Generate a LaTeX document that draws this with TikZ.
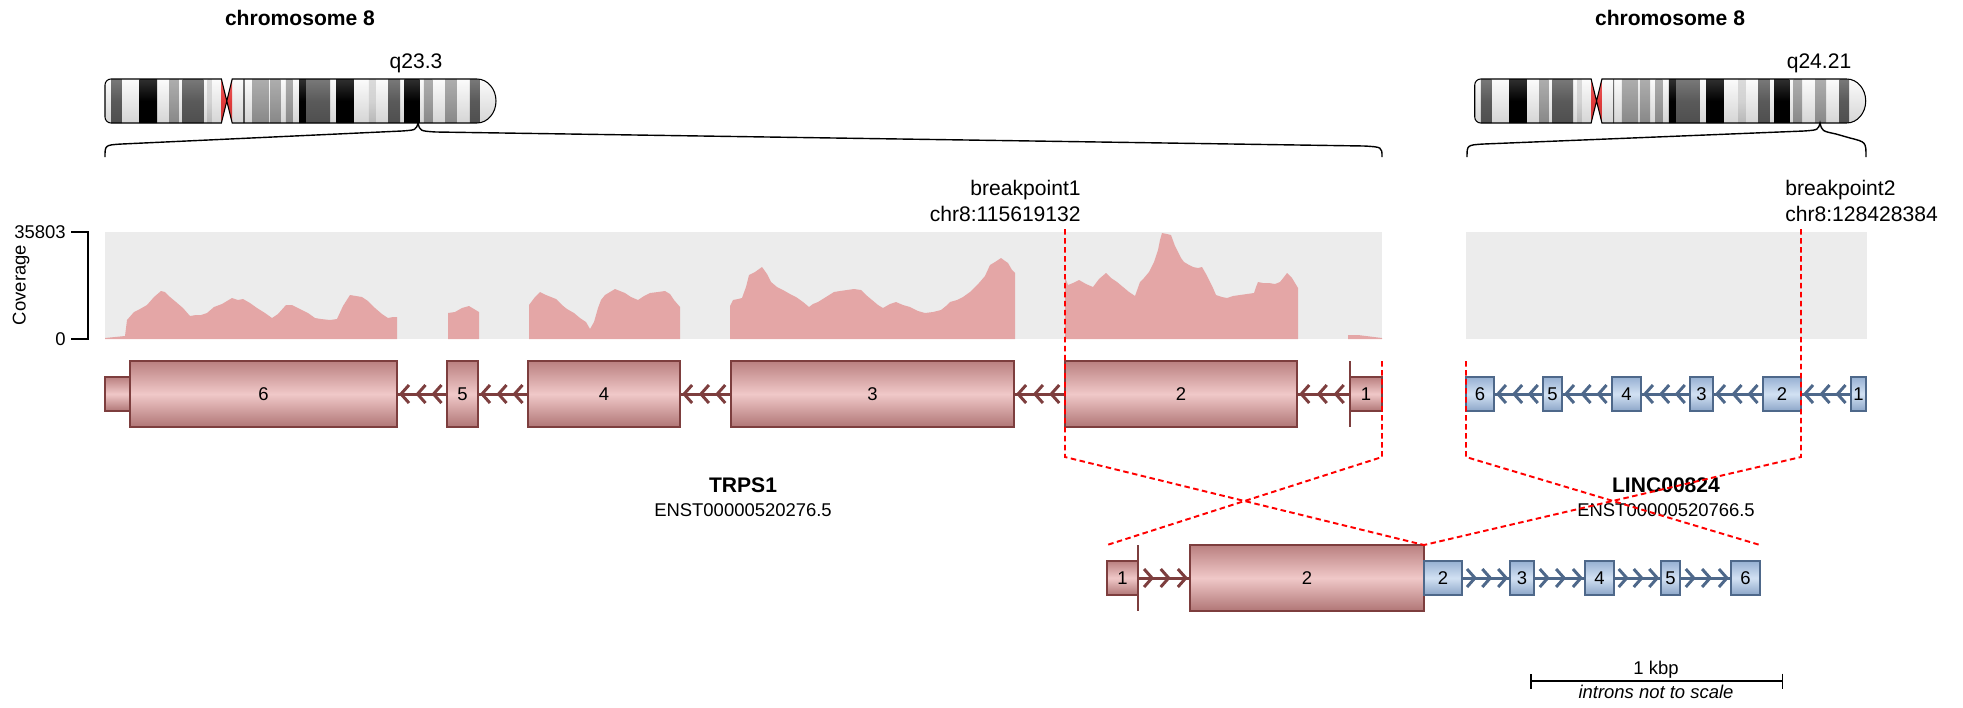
\documentclass[tikz,border=0pt]{standalone}
\usepackage{fontspec}
\setmainfont{Liberation Sans}
\usepackage{xcolor}
\definecolor{covfill}{RGB}{228,166,166}
\definecolor{covbg}{RGB}{236,236,236}
\definecolor{rline}{RGB}{125,62,62}
\definecolor{rtop}{RGB}{186,128,128}
\definecolor{rmid}{RGB}{240,200,200}
\definecolor{rbot}{RGB}{176,118,118}
\definecolor{bline}{RGB}{78,104,138}
\definecolor{btop}{RGB}{150,176,210}
\definecolor{bmid}{RGB}{210,225,243}
\definecolor{bbot}{RGB}{140,166,200}
\definecolor{gpos25}{RGB}{210,210,210}
\definecolor{gpos50}{RGB}{155,155,155}
\definecolor{gpos75}{RGB}{90,90,90}
\definecolor{gpos100}{RGB}{0,0,0}
\definecolor{acen}{RGB}{226,60,60}
\usepackage{tikz}
\usetikzlibrary{arrows.meta,positioning,calc}

\begin{document}
\begin{tikzpicture}[
  x=0.02cm, y=-0.02cm,
  big/.style={font=\fontsize{12pt}{14.4pt}\selectfont, inner sep=0pt},
  small/.style={font=\fontsize{10.5pt}{12.6pt}\selectfont, inner sep=0pt},
  exon/.style={draw, line width=0.8pt, inner sep=0pt, outer sep=0pt, font=\fontsize{10.5pt}{12pt}\selectfont},
  redbig/.style={exon, draw=rline, top color=rtop, bottom color=rbot, middle color=rmid, minimum height=1.32cm},
  redsmall/.style={redbig, minimum height=0.68cm},
  bluesmall/.style={exon, draw=bline, top color=btop, bottom color=bbot, middle color=bmid, minimum height=0.68cm},
  intronr/.style={rline, line width=1.7pt},
  intronb/.style={bline, line width=1.7pt},
  bpline/.style={red, line width=1.1pt, dash pattern=on 0.11cm off 0.07cm},
  brace/.style={black, line width=0.8pt}
]
  \useasboundingbox (0,0) rectangle (1963,707);

  % ideograms of chromosome 8
  \foreach \ox in {0,27.4}{
    \begin{scope}[xshift=\ox cm]
      \begin{scope}
        \clip (226.8,101) -- (221.4,79) -- (111,79) arc[start angle=90,end angle=180,radius=0.12cm]
              -- (105,117) arc[start angle=180,end angle=270,radius=0.12cm] -- (221.4,123) -- cycle
              (226.8,101) -- (232.2,79) -- (477,79) arc[start angle=90,end angle=-90,x radius=0.38cm,y radius=0.44cm]
              -- (232.2,123) -- cycle;
        \shade[top color=white, middle color=white, bottom color=white!82!black] (100,75) rectangle (500,127);
        \foreach \ba/\bb/\bc in {2.3/6.3/gpos75, 12.8/19.3/gpos100, 23.9/27.4/gpos50, 28.8/36.5/gpos75,
            38.1/39.7/gpos25, 43.2/47.2/acen, 51.3/51.7/gpos75, 54.6/60.6/gpos50, 61.3/65.1/gpos50,
            67.1/69.6/gpos50, 72.0/74.6/gpos100, 74.7/83.5/gpos75, 85.9/92.3/gpos100, 97.9/100.5/gpos25,
            105.1/109.5/gpos75, 111.1/116.7/gpos100, 118.3/121.5/gpos50, 126.3/130.4/gpos50, 135.4/138.9/gpos75}
          \shade[top color=\bc!78!white, bottom color=\bc!85!black, middle color=\bc]
            ({105+2.695*\ba},75) rectangle ({105+2.695*\bb},127);
      \end{scope}
      \draw[line width=0.6pt] (226.8,101) -- (221.4,79) -- (111,79) arc[start angle=90,end angle=180,radius=0.12cm]
            -- (105,117) arc[start angle=180,end angle=270,radius=0.12cm] -- (221.4,123) -- cycle
            (226.8,101) -- (232.2,79) -- (477,79) arc[start angle=90,end angle=-90,x radius=0.38cm,y radius=0.44cm]
            -- (232.2,123) -- cycle;
    \end{scope}
  }
  \node[big, font=\fontsize{12pt}{14.4pt}\selectfont\bfseries, anchor=base] (chrA) at (300,25) {chromosome 8};
  \node[big, font=\fontsize{12pt}{14.4pt}\selectfont\bfseries, anchor=base] (chrB) at (1670,25) {chromosome 8};
  \node[big, anchor=base] (bandA) at (416,68) {q23.3};
  \node[big, anchor=base] (bandB) at (1819,68) {q24.21};

  \coordinate (markA) at (418,123);
  \coordinate (markB) at (1820,123);
  \draw[brace] (105,157) .. controls (105,145) .. (122,144) -- (402,131)
    .. controls (416,130) .. (markA) .. controls (420,131) .. (436,132) -- (1364,146)
    .. controls (1382,147) .. (1382,157);
  \draw[brace] (1467,157) .. controls (1467,145) .. (1484,144) -- (1804,131)
    .. controls (1818,130) .. (markB) .. controls (1822,131) .. (1836,134) -- (1850,138)
    .. controls (1866,142) .. (1866,157);

  % coverage track
  \fill[covbg] (105,232) rectangle (1382,339);
  \fill[covbg] (1466,232) rectangle (1867,339);
  \fill[covfill]
    (105,339) -- (105,338) -- (125,336) -- (127,320) -- (134,312) -- (140,309) -- (147,305) -- (154,297)
    -- (161,291) -- (165,292) -- (170,297) -- (176,302) -- (183,308) -- (190,316) -- (196,315) -- (201,315)
    -- (207,313) -- (214,307) -- (222,304) -- (232,298) -- (238,300) -- (243,299) -- (250,303) -- (257,308)
    -- (265,313) -- (272,318) -- (278,314) -- (286,305) -- (292,305) -- (300,309) -- (308,313) -- (315,318)
    -- (321,319) -- (330,320) -- (337,319) -- (343,306) -- (350,295) -- (356,296) -- (362,297) -- (368,301)
    -- (375,308) -- (382,314) -- (388,318) -- (393,317) -- (397,317) -- (397,339) -- cycle
    (448,339) -- (448,313) -- (455,312) -- (462,308) -- (469,306) -- (474,309) -- (479,312) -- (479,339) -- cycle
    (529,339) -- (529,305) -- (535,297) -- (540,292) -- (546,295) -- (556,299) -- (562,305) -- (567,309)
    -- (574,313) -- (580,318) -- (586,322) -- (590,329) -- (594,322) -- (598,308) -- (601,300) -- (605,295)
    -- (610,292) -- (615,289) -- (620,291) -- (625,293) -- (631,297) -- (638,300) -- (644,296) -- (650,293)
    -- (658,292) -- (665,291) -- (670,294) -- (674,300) -- (680,307) -- (680,339) -- cycle
    (730,339) -- (730,306) -- (733,300) -- (738,299) -- (742,298) -- (746,287) -- (749,275) -- (755,272)
    -- (762,267) -- (767,274) -- (771,282) -- (777,287) -- (783,290) -- (790,294) -- (796,297) -- (803,302)
    -- (809,307) -- (813,304) -- (818,302) -- (826,297) -- (834,292) -- (840,291) -- (847,290) -- (854,289)
    -- (861,290) -- (866,295) -- (872,300) -- (878,305) -- (883,308) -- (890,304) -- (896,302) -- (903,305)
    -- (910,307) -- (918,311) -- (925,313) -- (933,312) -- (941,310) -- (946,306) -- (950,302) -- (957,300)
    -- (963,297) -- (970,292) -- (979,283) -- (985,276) -- (990,265) -- (995,262) -- (1001,258) -- (1005,261)
    -- (1008,263) -- (1012,270) -- (1015,273) -- (1015,339) -- cycle
    (1065,339) -- (1065,277) -- (1068,285) -- (1073,283) -- (1079,280) -- (1086,284) -- (1093,287) -- (1099,279)
    -- (1106,273) -- (1111,278) -- (1117,282) -- (1123,287) -- (1129,292) -- (1135,296) -- (1140,282) -- (1144,278)
    -- (1149,272) -- (1154,262) -- (1158,250) -- (1160,240) -- (1162,233) -- (1167,234) -- (1171,235) -- (1175,246)
    -- (1178,252) -- (1181,258) -- (1184,262) -- (1189,265) -- (1193,267) -- (1198,268) -- (1202,267) -- (1206,274)
    -- (1209,280) -- (1213,288) -- (1216,295) -- (1222,297) -- (1227,298) -- (1233,296) -- (1240,295) -- (1247,294)
    -- (1254,293) -- (1256,287) -- (1258,282) -- (1263,283) -- (1269,283) -- (1275,284) -- (1280,282) -- (1284,277)
    -- (1287,273) -- (1292,278) -- (1298,288) -- (1298,339) -- cycle
    (1348,339) -- (1348,335) -- (1358,335) -- (1382,338) -- (1382,339) -- cycle;
  \draw[line width=1.1pt] (71,232) -- (88,232) -- (88,339) -- (71,339);
  \node[small, anchor=east] (covmax) at (66,232) {35803};
  \node[small, anchor=east] (covmin) at (66,339) {0};
  \node[small, rotate=90] (covlbl) at (21,285) {Coverage};

  % TRPS1
  \node[redsmall, minimum width=0.52cm] (utr6) at (118,394) {};
  \foreach \a/\b/\n in {130/397/6, 447/478/5, 528/680/4, 731/1014/3, 1065/1297/2}
    \node[redbig, minimum width={(\b-\a)*0.02cm}] (t\n) at ({(\a+\b)/2},394) {\n};
  \node[redsmall, minimum width=0.64cm] (t1) at (1366,394) {1};
  \draw[rline, line width=1.2pt] (t1.west) ++(0,-33) -- ++(0,66);
  \foreach \p/\q in {t6/t5, t5/t4, t4/t3, t3/t2, t2/t1}{
    \draw[intronr] (\p.east) -- (\q.west);
    \foreach \f in {0.08,0.41,0.73}
      \draw[intronr] ($(\p.east)!\f!(\q.west)$) ++(8,-9) -- ++(-8,9) -- ++(8,9);
  }
  \node[big, font=\fontsize{12pt}{14.4pt}\selectfont\bfseries, anchor=base] (geneA) at (743,492) {TRPS1};
  \node[small, anchor=base] (txA) at (743,516) {ENST00000520276.5};

  % LINC00824
  \foreach \a/\b/\n in {1466/1494/6, 1543/1562/5, 1612/1641/4, 1690/1713/3, 1763/1801/2, 1851/1866/1}
    \node[bluesmall, minimum width={(\b-\a)*0.02cm}] (b\n) at ({(\a+\b)/2},394) {\n};
  \foreach \p/\q in {b6/b5, b5/b4, b4/b3, b3/b2, b2/b1}{
    \draw[intronb] (\p.east) -- (\q.west);
    \foreach \f in {0.08,0.41,0.73}
      \draw[intronb] ($(\p.east)!\f!(\q.west)$) ++(8,-9) -- ++(-8,9) -- ++(8,9);
  }
  \node[big, font=\fontsize{12pt}{14.4pt}\selectfont\bfseries, anchor=base] (geneB) at (1666,492) {LINC00824};
  \node[small, anchor=base] (txB) at (1666,516) {ENST00000520766.5};

  % fusion transcript
  \node[redsmall, minimum width=0.62cm] (fr1) at (1122.5,578) {1};
  \node[redbig, minimum width=4.68cm] (fr2) at (1307,578) {2};
  \draw[rline, line width=1.2pt] (fr1.east) ++(0,-33) -- ++(0,66);
  \foreach \a/\b/\n in {1424/1462/2, 1510/1534/3, 1585/1614/4, 1661/1680/5, 1731/1760/6}
    \node[bluesmall, minimum width={(\b-\a)*0.02cm}] (fb\n) at ({(\a+\b)/2},578) {\n};
  \draw[intronr] (fr1.east) -- (fr2.west);
  \foreach \f in {0.27,0.59,0.92}
    \draw[intronr] ($(fr1.east)!\f!(fr2.west)$) ++(-8,-9) -- ++(8,9) -- ++(-8,9);
  \foreach \p/\q in {fb2/fb3, fb3/fb4, fb4/fb5, fb5/fb6}{
    \draw[intronb] (\p.east) -- (\q.west);
    \foreach \f in {0.27,0.59,0.92}
      \draw[intronb] ($(\p.east)!\f!(\q.west)$) ++(-8,-9) -- ++(8,9) -- ++(-8,9);
  }

  % breakpoints
  \coordinate (bp1) at (1065,229);
  \coordinate (bp2) at (1801,229);
  \node[big, anchor=base east] (bp1name) at (1081,195) {breakpoint1};
  \node[big, anchor=base east] (bp1pos) at (1081,221) {chr8:115619132};
  \node[big, anchor=base west] (bp2name) at (1785,195) {breakpoint2};
  \node[big, anchor=base west] (bp2pos) at (1785,221) {chr8:128428384};
  \draw[bpline] (bp1) -- (1065,457) -- (fr2.north east);
  \draw[bpline] (t1.east |- t2.north) -- (1382,457) -- (fr1.west |- fr2.north);
  \draw[bpline] (b6.west |- t2.north) -- (1466,457) -- (fb6.east |- fr2.north);
  \draw[bpline] (bp2) -- (1801,457) -- (fr2.north east);

  % scale bar
  \coordinate (sbl) at (1530,681);
  \coordinate (sbr) at (1783,681);
  \draw[line width=0.85pt, {Bar[width=0.3cm]}-{Bar[width=0.3cm]}] (sbl) -- (sbr);
  \node[small, anchor=base] (sbtxt) at (1656,674) {1 kbp};
  \node[small, font=\fontsize{10.5pt}{12.6pt}\selectfont\itshape, anchor=base] (sbnote) at (1656,698) {introns not to scale};
\end{tikzpicture}
\end{document}
